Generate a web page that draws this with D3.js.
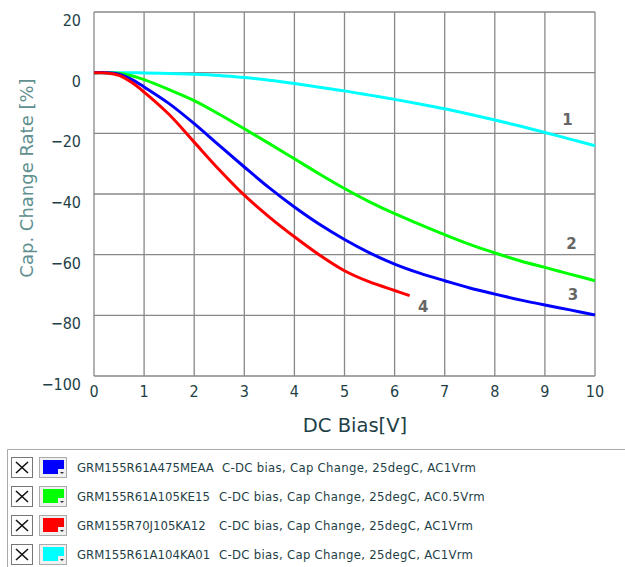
<!DOCTYPE html>
<html>
<head>
<meta charset="utf-8">
<script src="https://cdn.jsdelivr.net/npm/d3@7"></script>
<style>
body { margin: 0; background: #fff; }
text { font-family: "DejaVu Sans Condensed", "Liberation Sans Narrow", sans-serif; }
</style>
</head>
<body>
<div class="container"></div>
<script>
// DC bias sweep
var bias = [0, 0.25, 0.5, 0.75, 1, 1.5, 2, 2.5, 3, 3.5, 4, 4.5, 5, 5.5, 6, 6.5, 7, 7.5, 8, 8.5, 9, 9.5, 10];

var capBlue  = [0, 0, -0.5, -2.2, -4.7, -10.2, -16.8, -24, -31.1, -38, -44.3, -50, -55, -59.4, -63.1, -66.1, -68.6, -71, -73, -74.9, -76.6, -78.2, -79.9];
var capGreen = [0, 0, -0.2, -1, -2.3, -5.6, -9.2, -13.7, -18.5, -23.4, -28.4, -33.4, -38.2, -42.6, -46.5, -50, -53.4, -56.6, -59.4, -62, -64.2, -66.4, -68.6];
var capRed   = [0, -0.1, -0.9, -3.2, -6.4, -13.8, -22.9, -32, -40.4, -47.6, -54.1, -60.1, -65.3, -69, -71.8];
var capCyan  = [0, 0, 0, 0, -0.1, -0.3, -0.5, -0.9, -1.6, -2.5, -3.6, -4.8, -6, -7.4, -8.8, -10.3, -11.9, -13.7, -15.6, -17.6, -19.7, -21.9, -24.1];
var redEnd = [6.3, -73.5];

var xTicks = [0, 1, 2, 3, 4, 5, 6, 7, 8, 9, 10];
var yTicks = [20, 0, -20, -40, -60, -80, -100];

var partNames = ["GRM155R61A475MEAA", "GRM155R61A105KE15", "GRM155R70J105KA12", "GRM155R61A104KA01"];
var testNames = ["C-DC bias, Cap Change, 25degC, AC1Vrm",
                 "C-DC bias, Cap Change, 25degC, AC0.5Vrm",
                 "C-DC bias, Cap Change, 25degC, AC1Vrm",
                 "C-DC bias, Cap Change, 25degC, AC1Vrm"];
var seriesColors = ["#0000ff", "#00ff00", "#ff0000", "#00ffff"];

// curve number labels: [label, x(V), y(%)]
var curveLabels = [["1", 9.45, -17.2], ["2", 9.53, -58.2], ["3", 9.56, -75], ["4", 6.57, -78.8]];

var W = 625, H = 567;
var svg = d3.select(".container").append("svg").attr("width", W).attr("height", H);

var x = d3.scaleLinear().domain([0, 10]).range([94, 595]);
var y = d3.scaleLinear().domain([20, -100]).range([12, 376]);

// grid
svg.append("g").selectAll("line.v").data(xTicks).enter().append("line")
    .attr("x1", function(d) { return x(d); }).attr("x2", function(d) { return x(d); })
    .attr("y1", y(20)).attr("y2", y(-100))
    .style("stroke", "#888").style("stroke-width", 1.3);
svg.append("g").selectAll("line.h").data(yTicks).enter().append("line")
    .attr("x1", x(0)).attr("x2", x(10))
    .attr("y1", function(d) { return y(d); }).attr("y2", function(d) { return y(d); })
    .style("stroke", "#888").style("stroke-width", 1.3);

// tick labels
svg.append("g").selectAll("text").data(yTicks).enter().append("text")
    .attr("x", 81).attr("y", function(d) { return y(d) + 14; })
    .attr("text-anchor", "end")
    .style("font-size", "16px").style("fill", "#1f3f47")
    .text(function(d) { return d < 0 ? "\u2212" + (-d) : d; });
svg.append("g").selectAll("text").data(xTicks).enter().append("text")
    .attr("x", function(d) { return x(d); }).attr("y", 397)
    .attr("text-anchor", "middle")
    .style("font-size", "16px").style("fill", "#1f3f47")
    .text(function(d) { return d; });

// axis titles
svg.append("text").attr("x", 355).attr("y", 432).attr("text-anchor", "middle")
    .style("font-size", "19.5px").style("fill", "#1f3f47").style("font-family", "'DejaVu Sans', sans-serif")
    .text("DC Bias[V]");
svg.append("text").attr("transform", "translate(33,178) rotate(-90)").attr("text-anchor", "middle")
    .style("font-size", "18px").style("fill", "#5f8f8f").style("font-family", "'DejaVu Sans', sans-serif")
    .text("Cap. Change Rate [%]");

// curves
var line = d3.line()
    .x(function(d) { return x(d[0]); })
    .y(function(d) { return y(d[1]); })
    .curve(d3.curveCatmullRom.alpha(0.5));

function pts(vals) {
    return vals.map(function(v, i) { return [bias[i], v]; });
}
var redPts = pts(capRed); redPts.push(redEnd);
var curves = [pts(capCyan), pts(capGreen), pts(capBlue), redPts];
var curveColors = [seriesColors[3], seriesColors[1], seriesColors[0], seriesColors[2]];

svg.append("g").selectAll("path").data(curves).enter().append("path")
    .attr("d", line)
    .style("fill", "none")
    .style("stroke", function(d, i) { return curveColors[i]; })
    .style("stroke-width", 3);

svg.append("g").selectAll("text").data(curveLabels).enter().append("text")
    .attr("x", function(d) { return x(d[1]); }).attr("y", function(d) { return y(d[2]); })
    .attr("text-anchor", "middle")
    .style("font-size", "15px").style("font-weight", "bold").style("fill", "#666")
    .style("font-family", "'DejaVu Sans', sans-serif")
    .text(function(d) { return d[0]; });

// legend panel
svg.append("path").attr("d", "M7.5," + H + "V449.5H" + W)
    .style("fill", "none").style("stroke", "#aaa").style("stroke-width", 1);

var rows = svg.append("g").selectAll("g").data(partNames).enter().append("g")
    .attr("transform", function(d, i) { return "translate(0," + (457 + i * 29) + ")"; });

rows.append("rect").attr("x", 11.5).attr("y", 0.5).attr("width", 21).attr("height", 20)
    .style("fill", "#fff").style("stroke", "#777");
rows.append("path").attr("d", "M16,5L28,16M28,5L16,16")
    .style("stroke", "#111").style("stroke-width", 1.6);
rows.append("rect").attr("x", 39.5).attr("y", 0.5).attr("width", 27).attr("height", 20)
    .style("fill", "#f0f0f0").style("stroke", "#aaa");
rows.append("rect").attr("x", 43).attr("y", 3).attr("width", 21).attr("height", 14)
    .style("fill", function(d, i) { return seriesColors[i]; });
rows.append("rect").attr("x", 58).attr("y", 12).attr("width", 8).attr("height", 8)
    .style("fill", "#f0f0f0");
rows.append("path").attr("d", "M60,15h4l-2,2z").style("fill", "#333");
rows.append("text").attr("x", 77).attr("y", 15)
    .style("font-size", "13px").style("fill", "#1f3f47")
    .text(function(d) { return d; });
rows.append("text").attr("x", function(d, i) { return i == 0 ? 222 : 219; }).attr("y", 15)
    .style("font-size", "13px").style("fill", "#1f3f47").style("letter-spacing", "0.3px")
    .text(function(d, i) { return testNames[i]; });
</script>
</body>
</html>
